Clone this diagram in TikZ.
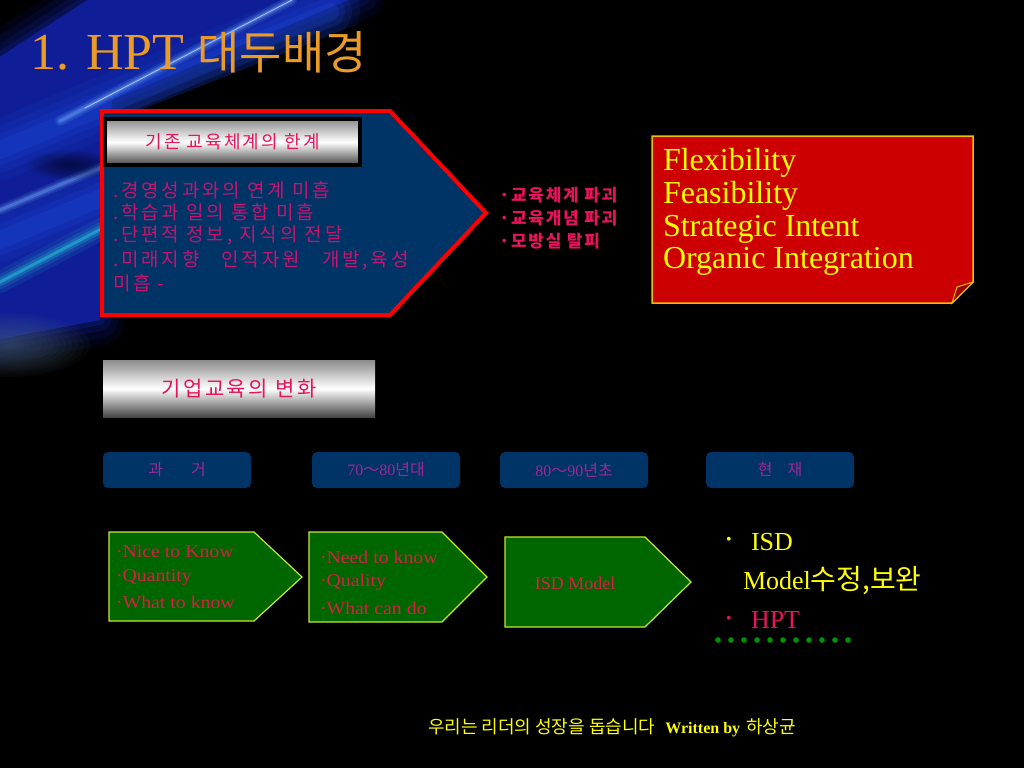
\documentclass[tikz,border=0pt]{standalone}
\usepackage{fontspec}
\setmainfont{Liberation Serif}
\newfontfamily\kr{Noto Sans CJK KR}
\newfontfamily\krsp{Noto Sans CJK KR}[LetterSpace=15]
\newfontfamily\krw{Noto Sans CJK KR}[LetterSpace=12]
\newfontfamily\krb{Noto Sans CJK KR}[LetterSpace=10]
\newfontfamily\serw{Liberation Serif}[FakeStretch=1.1]
\newcommand\fsz[1]{\fontsize{#1}{#1}\selectfont}
\definecolor{navy}{RGB}{0,51,102}
\definecolor{titleor}{RGB}{235,155,40}
\definecolor{crim}{RGB}{230,20,90}
\definecolor{bodypk}{RGB}{200,20,110}
\definecolor{boxred}{RGB}{204,0,0}
\definecolor{boxedge}{RGB}{240,190,0}
\definecolor{yel}{RGB}{255,255,0}
\definecolor{grn}{RGB}{0,102,0}
\definecolor{grnedge}{RGB}{200,230,50}
\definecolor{arrtxt}{RGB}{215,30,70}
\definecolor{tlbl}{RGB}{160,40,150}
\definecolor{dotg}{RGB}{0,150,0}
\definecolor{bgA}{RGB}{15,30,150}
\definecolor{bgB}{RGB}{30,80,230}
\definecolor{bgC}{RGB}{120,180,255}
\definecolor{bgCy}{RGB}{40,200,220}
\definecolor{bgG}{RGB}{80,105,130}
\definecolor{gA}{RGB}{140,140,140}
\definecolor{gB}{RGB}{70,70,70}
\tikzset{
  tx/.style={inner sep=0pt, outer sep=0pt},
  bodyline/.style={tx, anchor=west, text=bodypk, font=\krsp\fsz{19}},
  rlist/.style={tx, anchor=west, text=crim, font=\krb\bfseries\fsz{17}},
  bigy/.style={tx, anchor=base west, text=yel, font=\fsz{32}},
  graybox/.style={top color=gA, bottom color=gB, middle color=white, text=crim, inner sep=0pt},
  period/.style={fill=navy, rounded corners=5pt, minimum width=148pt, minimum height=36pt, inner sep=0pt, text=tlbl, font=\fsz{16}},
  garrow/.style={draw=grnedge, line width=1.2pt, fill=grn},
  gtxt/.style={tx, anchor=west, text=arrtxt, font=\serw\fsz{18}},
  listy/.style={tx, anchor=base west, font=\fsz{26}},
  bul/.style={tx, font=\fsz{16}},
}
\begin{document}
\begin{tikzpicture}[x=1pt,y=-1pt]
\useasboundingbox (0,0) rectangle (1024,768);
\fill[black] (0,0) rectangle (1024,768);
% background streaks
\begin{scope}
\clip (0,0) -- (420,0) -- (140,110) -- (120,380) -- (0,430) -- cycle;
\foreach \w/\o in {50/.12, 36/.15, 22/.2, 10/.3} {
  \draw[bgA, line width=\w pt, opacity=\o, line join=round]
    (-5,60) -- (95,-5) -- (360,-5) -- (112,100) -- (100,320) -- (-5,340) -- cycle;
}
\fill[bgA] (-5,60) -- (95,-5) -- (360,-5) -- (112,100) -- (100,320) -- (-5,340) -- cycle;
\foreach \w/\o in {60/.1, 44/.12, 30/.15, 18/.2} {
  \draw[bgB, line width=\w pt, opacity=\o, line cap=round] (0,150) -- (330,12);
  \draw[bgB, line width=\w pt, opacity=\o, line cap=round] (0,240) -- (230,144);
}
\foreach \w/\o in {10/.15, 6/.2, 3/.3} {
  \draw[bgC, line width=\w pt, opacity=\o, line cap=round] (60,121) -- (292,0);
  \draw[bgC, line width=\w pt, opacity=\o, line cap=round] (0,210) -- (250,105);
}
\draw[white, opacity=.55, line width=.8pt] (85,108) -- (292,0);
\foreach \w/\o in {22/.1, 14/.15, 8/.25, 3/.5} {
  \draw[bgCy, line width=\w pt, opacity=\o, line cap=round] (0,282) -- (170,193);
}
\foreach \r in {44,40,...,8} {
  \fill[black, opacity=.06] (70,165) ellipse [x radius=\r, y radius=\r/3];
}
\foreach \r in {80,74,...,8} {
  \fill[bgG, opacity=.06] (10,345) ellipse [x radius=\r, y radius=\r/2.5];
}
\end{scope}
% title
\node[tx, anchor=base west, text=titleor] (title) at (30,70) {\fsz{52}1. HPT {\kr\fsz{46}대두배경}};
% pentagon
\draw[red, line width=4pt, fill=navy] (102,111) -- (390,111) -- (486,213) -- (390,315) -- (102,315) -- cycle;
\node[graybox, draw=black, line width=4pt, minimum width=255pt, minimum height=46pt, font=\krw\fsz{18}] (lim) at (232.5,142) {기존 교육체계의 한계};
\node[bodyline] (b1) at (113,190) {.경영성과와의 연계 미흡};
\node[bodyline] (b2) at (113,212) {.학습과 일의 통합 미흡};
\node[bodyline] (b3) at (113,235) {.단편적 정보, 지식의 전달};
\node[bodyline] (b4) at (113,260) {.미래지향\hspace{22pt}인적자원\hspace{22pt}개발,육성};
\node[bodyline] (b5) at (113,283) {미흡 -};
% right list
\node[rlist] (r1) at (499,195) {·교육체계 파괴};
\node[rlist] (r2) at (499,218) {·교육개념 파괴};
\node[rlist] (r3) at (499,241) {·모방실 탈피};
% red box
\draw[boxedge, line width=1.5pt, fill=boxred] (652,136) -- (973,136) -- (973,282) -- (952,303) -- (652,303) -- cycle;
\draw[boxedge, line width=1pt, fill=boxred!75!black] (952,303) -- (957,287) -- (973,282) -- cycle;
\node[bigy] (f1) at (663,170) {Flexibility};
\node[bigy] (f2) at (663,203) {Feasibility};
\node[bigy] (f3) at (663,236) {Strategic Intent};
\node[bigy] (f4) at (663,268) {Organic Integration};
% second header
\node[graybox, minimum width=272pt, minimum height=57pt, font=\krw\fsz{21}] (chg) at (239,388.5) {기업교육의 변화};
% period boxes
\node[period] (p1) at (177,470) {{\kr 과}\hspace{28pt}{\kr 거}};
\node[period] (p2) at (386,470) {70{\kr ～}80{\kr 년대}};
\node[period] (p3) at (574,470) {80{\kr ～}90{\kr 년초}};
\node[period] (p4) at (780,470) {{\kr 현}\hspace{15pt}{\kr 재}};
% green arrows
\draw[garrow] (109,532) -- (254,532) -- (302,577) -- (254,621) -- (109,621) -- cycle;
\draw[garrow] (309,532) -- (442,532) -- (487,577) -- (442,622) -- (309,622) -- cycle;
\draw[garrow] (505,537) -- (645,537) -- (691,582) -- (645,627) -- (505,627) -- cycle;
\node[gtxt] (a1) at (116,552) {·Nice to Know};
\node[gtxt] (a2) at (116,577) {·Quantity};
\node[gtxt] (a3) at (116,602) {·What to know};
\node[gtxt] (c1) at (320,557) {·Need to know};
\node[gtxt] (c2) at (320,582) {·Quality};
\node[gtxt] (c3) at (320,608) {·What can do};
\node[tx, text=arrtxt, font=\fsz{18}] (isdm) at (575,583) {ISD Model};
% right bullet list
\node[bul, text=yel] (bu1) at (729,541) {•};
\node[listy, text=yel] (isd) at (751,550) {ISD};
\node[listy, text=yel] (mod) at (743,589) {Model{\kr\fsz{28}수정,보완}};
\node[bul, text=crim] (bu2) at (729,620) {•};
\node[listy, text=crim] (hpt) at (751,628) {HPT};
\foreach \i in {0,...,10} {
  \fill[dotg] (718+13*\i,640) circle [radius=2.8pt];
}
% footer
\node[tx, anchor=west, text=yel] (foot) at (428,728) {{\kr\fsz{18}우리는 리더의 성장을 돕습니다}\hspace{10pt}{\fsz{16}\bfseries Written by}\hspace{6pt}{\kr\fsz{18}하상균}};
\end{tikzpicture}
\end{document}
